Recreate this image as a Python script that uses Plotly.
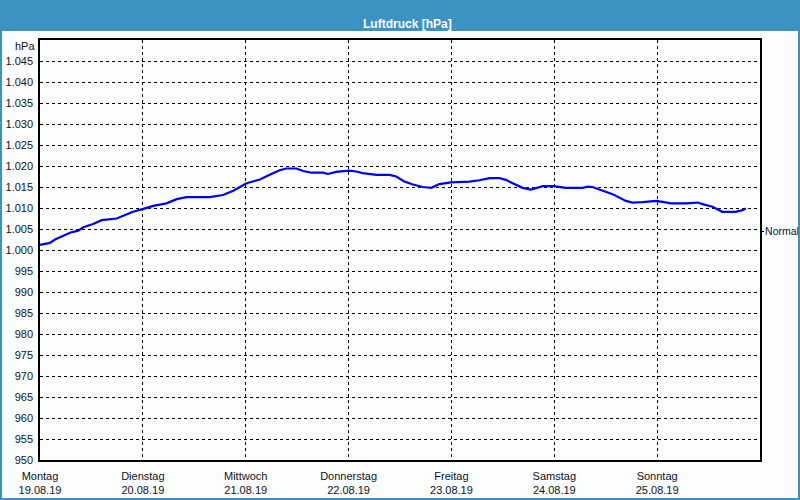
import pandas as pd
import plotly.graph_objects as go

start_date = "2019-08-19"
day_names = ["Montag", "Dienstag", "Mittwoch", "Donnerstag", "Freitag", "Samstag", "Sonntag"]
day_dates = ["19.08.19", "20.08.19", "21.08.19", "22.08.19", "23.08.19", "24.08.19", "25.08.19"]

hours = [0, 2.3, 3.5, 5.4, 7.0, 8.9, 10.1, 12.4, 14.4, 17.9, 19.4, 21.7, 24.1, 26.4, 29.5,
         31.9, 34.2, 39.6, 42.7, 45.1, 48.2, 51.3, 53.6, 55.9, 57.5, 59.8, 61.4, 63.3, 66.0,
         67.2, 69.1, 72.1, 73.8, 75.3, 78.5, 81.6, 83.1, 85.0, 87.0, 89.3, 91.3, 93.2, 95.9,
         100.2, 102.5, 104.9, 107.2, 108.7, 110.3, 112.6, 114.6, 116.1, 117.3, 119.8, 122.7,
         126.6, 127.8, 128.9, 130.5, 133.6, 136.7, 138.2, 140.6, 142.1, 143.8, 145.6, 147.2,
         150.7, 153.4, 155.0, 156.9, 159.2, 162.3, 163.9, 164.7]
pressure = [1001.2, 1001.7, 1002.5, 1003.3, 1004.1, 1004.6, 1005.4, 1006.2, 1007.1, 1007.5,
            1008.1, 1009.1, 1009.8, 1010.5, 1011.1, 1012.1, 1012.6, 1012.6, 1013.1, 1014.1,
            1015.9, 1016.8, 1017.9, 1019.0, 1019.4, 1019.4, 1018.8, 1018.4, 1018.4, 1018.1,
            1018.6, 1018.9, 1018.7, 1018.3, 1017.9, 1017.9, 1017.5, 1016.3, 1015.6, 1015.0,
            1014.8, 1015.7, 1016.1, 1016.3, 1016.6, 1017.1, 1017.1, 1016.7, 1015.9, 1014.8,
            1014.4, 1014.8, 1015.2, 1015.2, 1014.8, 1014.8, 1015.1, 1015.0, 1014.4, 1013.3,
            1011.7, 1011.3, 1011.4, 1011.5, 1011.7, 1011.4, 1011.1, 1011.1, 1011.3, 1010.8,
            1010.3, 1009.1, 1009.1, 1009.5, 1009.9]
y_ticks = list(range(950, 1050, 5))
normal_value = 1004.5

t0 = pd.Timestamp(start_date)
times = [t0 + pd.Timedelta(hours=h) for h in hours]
day_ticks = [t0 + pd.Timedelta(days=i) for i in range(len(day_names))]

def fmt(v):
    s = str(v)
    return s[0] + "." + s[1:] if len(s) == 4 else s

font = dict(family="Liberation Sans, Arial, sans-serif", size=11, color="#111122")
blue = "#3C92C3"
bg = "#FBFEFC"

fig = go.Figure()
fig.add_trace(go.Scatter(x=times, y=pressure, mode="lines",
                         line=dict(color="#0000EE", width=2.2), showlegend=False))
fig.add_trace(go.Scatter(x=[times[0]], y=[normal_value], yaxis="y2", mode="markers",
                         marker=dict(opacity=0), showlegend=False, hoverinfo="skip"))

W, H, L, R, T, B = 800, 500, 40, 40, 40, 40
pw, ph = W - L - R, H - T - B
def px(x): return (x - L) / pw
def py(y): return (H - B - y) / ph

fig.update_layout(
    width=W, height=H,
    margin=dict(l=L, r=R, t=T, b=B, autoexpand=False),
    paper_bgcolor=bg, plot_bgcolor=bg,
    font=font,
    xaxis=dict(type="date", range=[t0, t0 + pd.Timedelta(days=7)],
               tickvals=day_ticks,
               ticktext=[f"{n}<br>{d}" for n, d in zip(day_names, day_dates)],
               showgrid=True, gridcolor="black", gridwidth=1, griddash="3px,3px",
               showline=True, linecolor="black", linewidth=1.5, mirror=True,
               ticks="", ticklabelstandoff=5, zeroline=False, automargin=False),
    yaxis=dict(range=[950, 1050], tickvals=y_ticks, ticktext=[fmt(v) for v in y_ticks],
               showgrid=True, gridcolor="black", gridwidth=1, griddash="3px,3px",
               showline=True, linecolor="black", linewidth=1.5, mirror=True,
               ticks="", ticklabelstandoff=3, zeroline=False, automargin=False),
    yaxis2=dict(range=[950, 1050], overlaying="y", side="right",
                tickvals=[normal_value], ticktext=["Normal"],
                ticks="outside", ticklen=3, tickcolor="black",
                tickfont=dict(family="Liberation Sans, Arial, sans-serif", size=10.5, color="#111122"),
                ticklabelstandoff=-1,
                showgrid=False, showline=False, zeroline=False, automargin=False),
    shapes=[
        dict(type="rect", xref="paper", yref="paper",
             x0=px(0), x1=px(W), y0=py(31), y1=py(0),
             fillcolor=blue, line=dict(width=0), layer="below"),
        dict(type="rect", xref="paper", yref="paper",
             x0=px(1), x1=px(W - 1), y0=py(H - 1), y1=py(0),
             fillcolor="rgba(0,0,0,0)", line=dict(color=blue, width=2)),
    ],
    annotations=[
        dict(text="<b>Luftdruck [hPa]</b>", xref="paper", yref="paper",
             x=px(407), y=py(15), showarrow=False,
             font=dict(family="Liberation Sans, Arial, sans-serif", size=12, color="white")),
        dict(text="hPa", xref="paper", yref="paper", x=px(37), y=py(46),
             xanchor="right", yanchor="middle", showarrow=False, font=font),
    ],
)

fig.write_html("out.html")
